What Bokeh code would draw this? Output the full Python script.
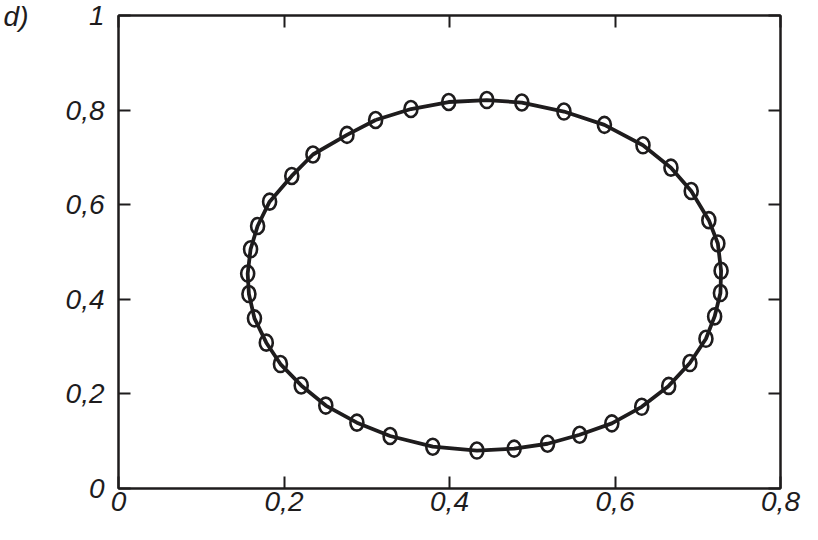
from bokeh.plotting import figure
from bokeh.models import LinearAxis, FixedTicker, ColumnDataSource
from bokeh.embed import file_html
from bokeh.resources import INLINE

# Measured points (x, y) around the closed curve
x_pts = [0.3107, 0.3534, 0.3990, 0.4451, 0.4874, 0.5383, 0.5872, 0.6338, 0.6676, 0.6921,
         0.7134, 0.7243, 0.7282, 0.7274, 0.7204, 0.7099, 0.6905, 0.6649, 0.6323, 0.5962,
         0.5573, 0.5185, 0.4781, 0.4331, 0.3798, 0.3282, 0.2881, 0.2505, 0.2208, 0.1957,
         0.1786, 0.1643, 0.1576, 0.1561, 0.1596, 0.1681, 0.1826, 0.2094, 0.2350, 0.2761]
y_pts = [0.7790, 0.8023, 0.8171, 0.8212, 0.8160, 0.7969, 0.7688, 0.7256, 0.6783, 0.6290,
         0.5673, 0.5180, 0.4604, 0.4132, 0.3638, 0.3165, 0.2652, 0.2169, 0.1727, 0.1377,
         0.1137, 0.0946, 0.0843, 0.0802, 0.0884, 0.1110, 0.1392, 0.1753, 0.2179, 0.2631,
         0.3083, 0.3597, 0.4111, 0.4543, 0.5057, 0.5550, 0.6064, 0.6608, 0.7061, 0.7476]

x_ticks = [0, 0.2, 0.4, 0.6, 0.8]
x_tick_labels = ["0", "0,2", "0,4", "0,6", "0,8"]
y_ticks = [0, 0.2, 0.4, 0.6, 0.8, 1.0]
y_tick_labels = ["0", "0,2", "0,4", "0,6", "0,8", "1"]
panel_label = "d)"

INK = "#1e1c1d"
FONT = "Liberation Sans"
FS = "28px"

p = figure(width=802, height=524, output_backend="svg", toolbar_location=None,
           x_range=(0, 0.8), y_range=(0, 1.0),
           min_border_left=115, min_border_right=22, min_border_top=15, min_border_bottom=36)
p.xgrid.visible = False
p.ygrid.visible = False
p.background_fill_color = "white"
p.border_fill_color = "white"
p.outline_line_color = INK
p.outline_line_width = 2
p.outline_line_alpha = 1.0

def style_axis(ax, ticks, labels, show_labels=True):
    ax.ticker = FixedTicker(ticks=ticks)
    ax.major_label_overrides = {t: l for t, l in zip(ticks, labels)}
    ax.minor_tick_line_color = None
    ax.major_tick_in = 12
    ax.major_tick_out = 0
    ax.major_tick_line_color = INK
    ax.major_tick_line_width = 2
    ax.axis_line_color = INK
    ax.axis_line_width = 2
    ax.major_label_text_font = FONT
    ax.major_label_text_font_style = "italic"
    if show_labels:
        ax.major_label_text_color = INK
        ax.major_label_text_font_size = FS
    else:
        ax.major_label_text_color = None
        ax.major_label_text_font_size = "1px"
        ax.major_label_standoff = 0

style_axis(p.xaxis[0], x_ticks, x_tick_labels)
p.xaxis[0].major_label_standoff = 3
style_axis(p.yaxis[0], y_ticks, y_tick_labels)
p.yaxis[0].major_label_standoff = 14

top_ax = LinearAxis()
style_axis(top_ax, x_ticks, x_tick_labels, show_labels=False)
p.add_layout(top_ax, "above")
right_ax = LinearAxis()
style_axis(right_ax, y_ticks, y_tick_labels, show_labels=False)
p.add_layout(right_ax, "right")

# Outer left axis used only to carry the panel letter next to the top of the frame
tag_ax = LinearAxis(ticker=FixedTicker(ticks=[1.0]), major_label_overrides={1.0: panel_label})
tag_ax.axis_line_color = None
tag_ax.major_tick_line_color = None
tag_ax.minor_tick_line_color = None
tag_ax.major_label_text_font = FONT
tag_ax.major_label_text_font_style = "italic"
tag_ax.major_label_text_font_size = FS
tag_ax.major_label_text_color = INK
tag_ax.major_label_standoff = 28
p.add_layout(tag_ax, "left")

line_src = ColumnDataSource(dict(x=x_pts + x_pts[:1], y=y_pts + y_pts[:1]))
p.line("x", "y", source=line_src, line_color=INK, line_width=3.8)

pt_src = ColumnDataSource(dict(x=x_pts, y=y_pts))
p.ellipse("x", "y", source=pt_src, width=13, height=16,
          width_units="screen", height_units="screen",
          fill_color=None, line_color=INK, line_width=2.6)

open("out.html", "w").write(file_html(p, INLINE))
